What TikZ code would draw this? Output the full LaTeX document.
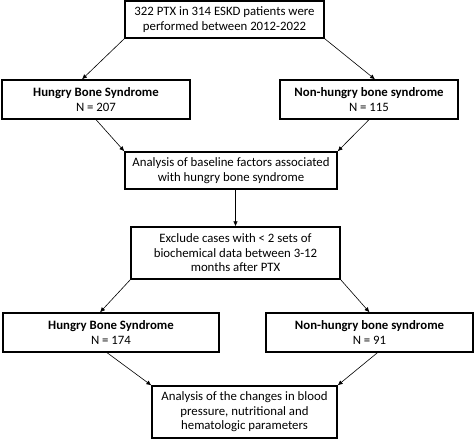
\documentclass[tikz,border=0pt]{standalone}
\usepackage{fontspec}
\setmainfont{Carlito}
\usetikzlibrary{arrows.meta,calc}
\begin{document}
\begin{tikzpicture}[x=1pt,y=-1pt,
  box/.style={draw=black,line width=1.3pt,fill=white,align=center,inner sep=0pt,font=\fontsize{12.8}{14.4}\selectfont},
  conn/.style={draw=black,line width=0.6pt,-{Latex[length=5pt,width=4.5pt]}}]
\useasboundingbox (0,0) rectangle (474,441);
\node[box,minimum width=199pt,minimum height=37pt] (b1) at (224.5,19.5) {322 PTX in 314 ESKD patients were\\performed between 2012-2022};
\node[box,minimum width=188pt,minimum height=39pt] (b2) at (96,99.5) {\textbf{Hungry Bone Syndrome}\\N = 207};
\node[box,minimum width=178pt,minimum height=39pt] (b3) at (369,99.5) {\textbf{Non-hungry bone syndrome}\\N = 115};
\node[box,minimum width=212pt,minimum height=37pt] (b4) at (231,170.5) {Analysis of baseline factors associated\\with hungry bone syndrome};
\node[box,minimum width=209pt,minimum height=52pt] (b5) at (235.5,253) {Exclude cases with < 2 sets of\\biochemical data between 3-12\\months after PTX};
\node[box,minimum width=216pt,minimum height=39pt] (b6) at (111,332.5) {\textbf{Hungry Bone Syndrome}\\N = 174};
\node[box,minimum width=207pt,minimum height=39pt] (b7) at (369.5,332.5) {\textbf{Non-hungry bone syndrome}\\N = 91};
\node[box,minimum width=185pt,minimum height=52pt] (b8) at (244.5,412) {Analysis of the changes in blood\\pressure, nutritional and\\hematologic parameters};
\draw[conn] (b1.south west) -- ([xshift=-14pt]b2.north);
\draw[conn] (b1.south east) -- ([xshift=6pt]b3.north);
\draw[conn] (b2.south) -- (b4.north west);
\draw[conn] (b3.south) -- (b4.north east);
\draw[conn] (b4.south -| b5.north) -- (b5.north);
\draw[conn] (b5.south west) -- ([xshift=-11pt]b6.north);
\draw[conn] (b5.south east) -- (b7.north);
\draw[conn] ([xshift=-4pt]b6.south) -- (b8.north west);
\draw[conn] ([xshift=8pt]b7.south) -- (b8.north east);
\end{tikzpicture}
\end{document}
